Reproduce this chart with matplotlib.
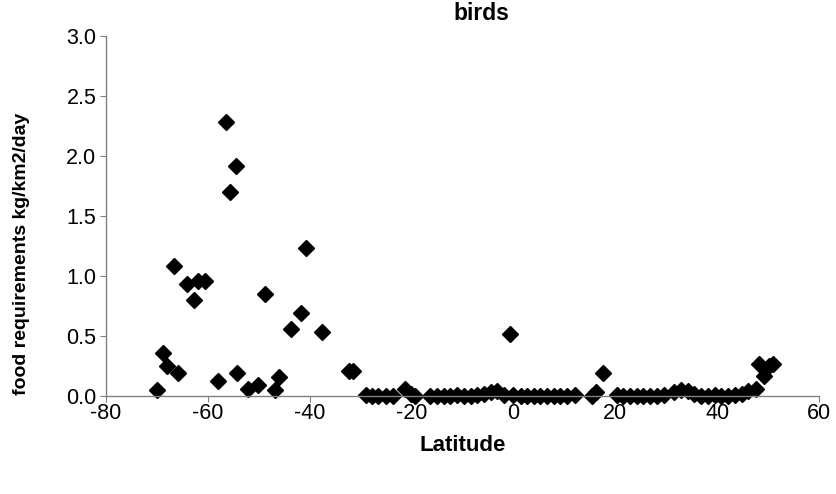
import matplotlib
matplotlib.use("Agg")
import matplotlib.pyplot as plt

plt.rcParams['font.family'] = ['Liberation Sans', 'DejaVu Sans']
plt.rcParams['axes.unicode_minus'] = False

latitude = [-70.0, -68.8, -68.0, -66.7, -65.9, -64.0, -62.7, -61.9, -60.5, -58.1,
            -56.5, -55.7, -54.5, -54.2, -52.2, -50.1, -48.8, -46.9, -46.0, -43.6,
            -41.7, -40.7, -37.6, -32.3, -31.5,
            -29.0, -27.7, -26.5, -25.1, -23.7, -21.2, -20.2, -19.3, -16.3, -15.0,
            -13.7, -12.4, -11.0, -9.7, -8.4, -7.1, -5.8, -4.5, -3.2, -1.9,
            -0.6, 0.0, 1.4, 2.7, 4.0, 5.3, 6.6, 7.9, 9.2, 10.5,
            12.1, 15.4, 16.3, 17.6, 20.3, 21.6, 22.9, 24.2, 25.5, 26.9,
            28.2, 29.5, 31.5, 32.9, 34.2, 35.5, 36.8, 38.2, 39.5, 40.8,
            42.1, 43.5, 44.8, 46.1, 47.7, 48.2, 49.2, 50.1, 50.9]
food = [0.05, 0.36, 0.25, 1.08, 0.19, 0.93, 0.80, 0.96, 0.96, 0.125,
        2.28, 1.70, 1.92, 0.195, 0.06, 0.09, 0.85, 0.05, 0.16, 0.56,
        0.69, 1.23, 0.53, 0.21, 0.21,
        0.01, 0.0, 0.0, 0.0, 0.0, 0.06, 0.02, 0.0, 0.0, 0.0,
        0.0, 0.0, 0.01, 0.0, 0.0, 0.01, 0.02, 0.03, 0.04, 0.01,
        0.52, 0.01, 0.0, 0.0, 0.0, 0.0, 0.0, 0.0, 0.0, 0.0,
        0.01, 0.0, 0.03, 0.19, 0.01, 0.0, 0.0, 0.0, 0.0, 0.0,
        0.0, 0.01, 0.03, 0.05, 0.04, 0.02, 0.0, 0.0, 0.01, 0.0,
        0.0, 0.01, 0.02, 0.04, 0.06, 0.27, 0.17, 0.25, 0.27]

x_ticks = [-80, -60, -40, -20, 0, 20, 40, 60]
y_ticks = [0.0, 0.5, 1.0, 1.5, 2.0, 2.5, 3.0]

fig = plt.figure(figsize=(8.36, 4.94), dpi=100)
ax = fig.add_axes([106/836, 1-396/494, (819-106)/836, (396-36)/494])

ax.plot(latitude, food, linestyle='none', marker='D', markersize=8,
        color='black', clip_on=False)

ax.set_xlim(-80, 60)
ax.set_ylim(0, 3.0)
ax.set_xticks(x_ticks)
ax.set_xticklabels([str(t) for t in x_ticks])
ax.set_yticks(y_ticks)
ax.set_yticklabels([f"{t:.1f}" for t in y_ticks])

for s in ['top', 'right']:
    ax.spines[s].set_visible(False)
for s in ['left', 'bottom']:
    ax.spines[s].set_color('#808080')
    ax.spines[s].set_linewidth(1.0)
ax.tick_params(axis='both', colors='#808080', labelcolor='black',
               labelsize=15.5, length=4, direction='out')
ax.tick_params(axis='x', pad=1)
ax.tick_params(axis='y', pad=3)

ax.set_xlabel('Latitude', fontsize=16, fontweight='bold', labelpad=8)
fig.text(22/836, 1-254/494, 'food requirements kg/km2/day', fontsize=14,
         fontweight='bold', rotation=90, ha='center', va='center')
fig.text(481/836, 1-13/494, 'birds', fontsize=16.5, fontweight='bold',
         ha='center', va='center')

fig.savefig('out.png', dpi=100)
